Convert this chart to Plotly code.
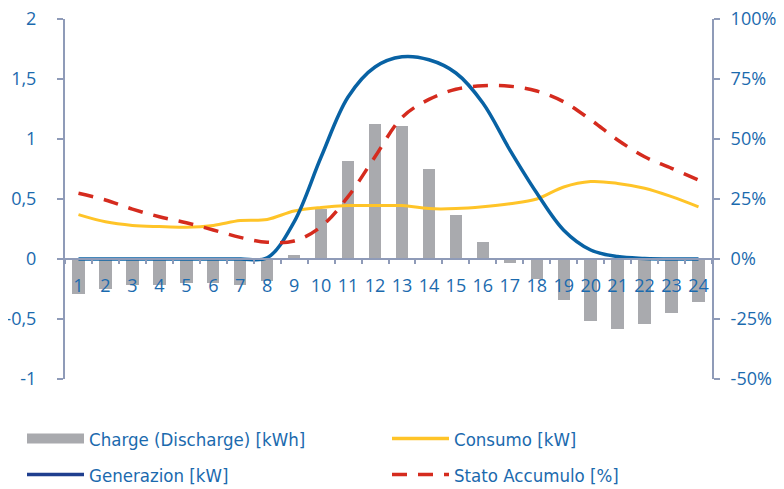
import plotly.graph_objects as go

hours = [str(h) for h in range(1, 25)]
charge = [-0.29, -0.25, -0.22, -0.22, -0.20, -0.20, -0.22, -0.18, 0.03, 0.42, 0.82, 1.125,
          1.11, 0.75, 0.37, 0.14, -0.035, -0.17, -0.34, -0.52, -0.58, -0.54, -0.45, -0.36]
consumo = [0.37, 0.31, 0.28, 0.27, 0.265, 0.28, 0.32, 0.33, 0.40, 0.43, 0.445, 0.445,
           0.445, 0.42, 0.42, 0.435, 0.46, 0.50, 0.60, 0.645, 0.63, 0.59, 0.52, 0.435]
generazione = [0, 0, 0, 0, 0, 0, 0, 0.01, 0.31, 0.85, 1.35, 1.60,
               1.685, 1.66, 1.55, 1.30, 0.91, 0.55, 0.24, 0.075, 0.02, 0.005, 0, 0]
stato = [27.4, 24.6, 20.8, 17.6, 15.1, 12.1, 9.0, 7.0, 7.5, 13.5, 26.0, 42.6,
         59.0, 66.5, 70.7, 72.2, 72.0, 70.0, 65.5, 58.0, 49.6, 42.6, 37.8, 32.9]

left_vals = [-1, -0.5, 0, 0.5, 1, 1.5, 2]
left_text = ["-1", "-0,5", "0", "0,5", "1", "1,5", "2"]
right_vals = [-50, -25, 0, 25, 50, 75, 100]
right_text = ["-50%", "-25%", "0%", "25%", "50%", "75%", "100%"]

GREY = "#A9AAAE"
BLUE = "#0862A4"
YELLOW = "#FFC428"
RED = "#D52B1E"
AXIS = "#8F9BB8"
TXT = "#1B6AAE"
DASH = "15px,11px"
TICKFONT = dict(family="Open Sans", size=18, color=TXT)
LEGFONT = dict(family="DejaVu Sans Condensed", size=18.5, color=TXT)

fig = go.Figure()
fig.add_trace(go.Bar(x=hours, y=charge, marker=dict(color=GREY, line=dict(width=0)),
                     width=0.46, showlegend=False, name="Charge (Discharge) [kWh]"))
fig.add_trace(go.Scatter(x=hours, y=consumo, mode="lines", name="Consumo [kW]",
                         line=dict(color=YELLOW, width=3, shape="spline"), showlegend=False))
fig.add_trace(go.Scatter(x=hours, y=generazione, mode="lines", name="Generazion [kW]",
                         line=dict(color=BLUE, width=3.5, shape="spline"), showlegend=False))
fig.add_trace(go.Scatter(x=hours, y=stato, mode="lines", name="Stato Accumulo [%]", yaxis="y2",
                         line=dict(color=RED, width=3.5, shape="spline", dash=DASH),
                         showlegend=False))

# legend entries
fig.add_trace(go.Scatter(x=[None], y=[None], mode="lines", name="Charge (Discharge) [kWh]",
                         line=dict(color=GREY, width=11), legend="legend"))
fig.add_trace(go.Scatter(x=[None], y=[None], mode="lines", name="Consumo [kW]",
                         line=dict(color=YELLOW, width=3.5), legend="legend2"))
fig.add_trace(go.Scatter(x=[None], y=[None], mode="lines", name="Generazion [kW]",
                         line=dict(color="#1F3F8F", width=3.5), legend="legend3"))
fig.add_trace(go.Scatter(x=[None], y=[None], mode="lines", name="Stato Accumulo [%]",
                         line=dict(color=RED, width=3.5, dash=DASH), legend="legend4"))

leg_common = dict(orientation="h", xanchor="left", yanchor="middle",
                  font=LEGFONT, itemwidth=57, bgcolor="rgba(0,0,0,0)")

X1 = (22 - 65) / 647
X2 = (387 - 65) / 647
Y1 = (379 - 439) / 360
Y2 = (379 - 475) / 360

fig.update_layout(
    width=776, height=481,
    margin=dict(l=57, r=72, t=11, b=110, autoexpand=False),
    paper_bgcolor="white", plot_bgcolor="white",
    bargap=0,
    xaxis=dict(type="category", anchor="free", position=1/3, showline=True,
               linecolor=AXIS, linewidth=2, ticks="outside", tickson="boundaries",
               ticklen=4, tickwidth=2, tickcolor=AXIS, showgrid=False, tickfont=TICKFONT,
               tickangle=0, ticklabelstandoff=10, automargin=False),
    yaxis=dict(range=[-1, 2], tickvals=left_vals, ticktext=left_text, showgrid=False,
               zeroline=False, showline=True, linecolor=AXIS, linewidth=2,
               ticks="outside", ticklen=6, tickwidth=2, tickcolor=AXIS,
               tickfont=TICKFONT, ticklabelstandoff=17, automargin=False,
               ticklabeloverflow="allow"),
    yaxis2=dict(range=[-50, 100], tickvals=right_vals, ticktext=right_text, overlaying="y",
                side="right", showgrid=False, zeroline=False, showline=True, linecolor=AXIS,
                linewidth=2, ticks="outside", ticklen=6, tickwidth=2, tickcolor=AXIS,
                tickfont=TICKFONT, ticklabelstandoff=7, automargin=False,
                ticklabeloverflow="allow"),
    legend=dict(x=X1, y=Y1, **leg_common),
    legend2=dict(x=X2, y=Y1, **leg_common),
    legend3=dict(x=X1, y=Y2, **leg_common),
    legend4=dict(x=X2, y=Y2, **leg_common),
)

fig.write_html("out.html")
